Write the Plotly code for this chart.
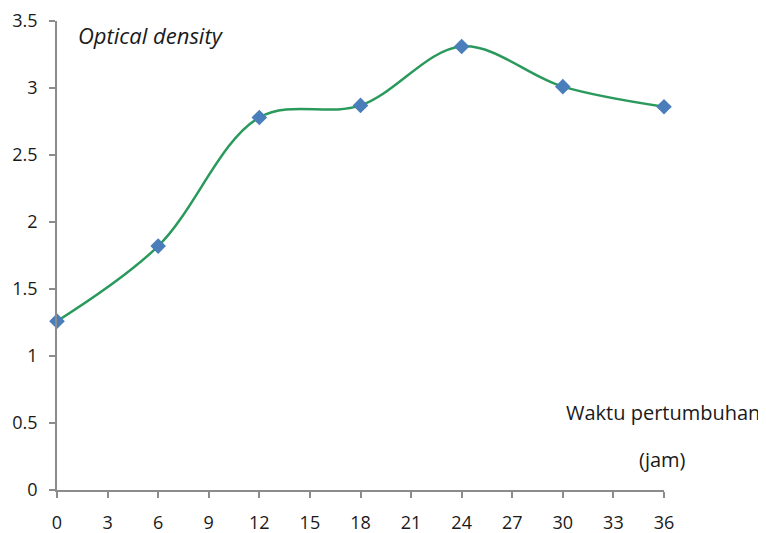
import plotly.graph_objects as go

hours = [0, 6, 12, 18, 24, 30, 36]
optical_density = [1.26, 1.82, 2.78, 2.87, 3.31, 3.01, 2.86]
x_ticks = list(range(0, 37, 3))
y_ticks = [0, 0.5, 1, 1.5, 2, 2.5, 3, 3.5]
y_tick_labels = ["0", "0.5", "1", "1.5", "2", "2.5", "3", "3.5"]

FONT = "Open Sans"

fig = go.Figure()
fig.add_trace(go.Scatter(
    x=hours, y=optical_density, mode="lines+markers",
    line=dict(color="#2a9a5c", width=2.5, shape="spline", smoothing=1.0),
    marker=dict(symbol="diamond", size=12, color="#4a7ebb"),
    showlegend=False, hoverinfo="x+y", cliponaxis=False,
))

fig.update_layout(
    width=766, height=533,
    margin=dict(l=49, r=110, t=13, b=51, autoexpand=False),
    plot_bgcolor="white", paper_bgcolor="white",
    font=dict(family=FONT, size=18, color="#1a1a1a"),
    xaxis=dict(range=[0, 36], tickvals=x_ticks, showgrid=False, zeroline=False,
               automargin=False,
               showline=True, linecolor="#8c8c8c", linewidth=1.5,
               ticks="outside", ticklen=6, tickcolor="#8c8c8c", tickwidth=1.5,
               ticklabelstandoff=10),
    yaxis=dict(range=[0, 3.5], tickvals=y_ticks, ticktext=y_tick_labels,
               showgrid=False, zeroline=False, automargin=False,
               showline=True, linecolor="#8c8c8c", linewidth=1.5,
               ticks="outside", ticklen=6, tickcolor="#8c8c8c", tickwidth=1.5,
               ticklabelstandoff=8),
    annotations=[
        dict(text="<i>Optical density</i>", xref="paper", yref="paper",
             x=0.032, y=0.97, xanchor="left", yanchor="middle", showarrow=False,
             font=dict(family=FONT, size=22, color="#1a1a1a")),
        dict(text="Waktu pertumbuhan", xref="paper", yref="paper",
             x=0.998, y=0.165, xanchor="center", yanchor="middle", showarrow=False,
             font=dict(family=FONT, size=20, color="#1a1a1a")),
        dict(text="(jam)", xref="paper", yref="paper",
             x=0.998, y=0.066, xanchor="center", yanchor="middle", showarrow=False,
             font=dict(family=FONT, size=20, color="#1a1a1a")),
    ],
)

fig.write_html("out.html")
